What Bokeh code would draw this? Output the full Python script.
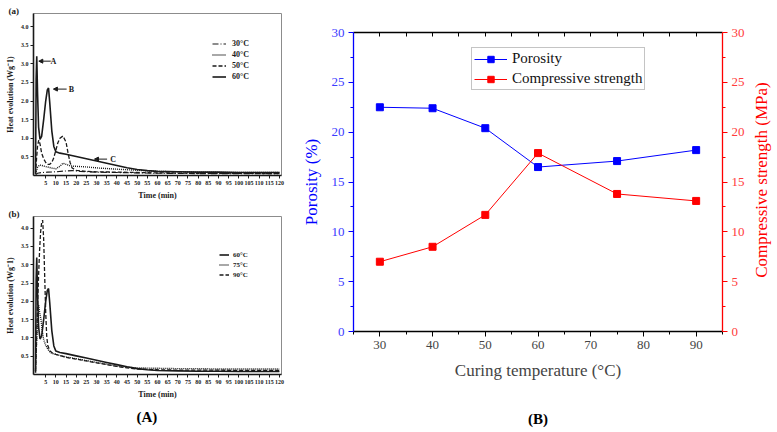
import math
from bokeh.plotting import figure
from bokeh.models import (LinearAxis, Range1d, FixedTicker, Legend, LegendItem,
                          Label, Arrow, NormalHead, PrintfTickFormatter, Title)
from bokeh.core.properties import value
from bokeh.layouts import row, column
from bokeh.embed import file_html
from bokeh.resources import INLINE

# ---------------- Panel (B) data ----------------
curing_temp = [30, 40, 50, 60, 75, 90]
porosity = [22.5, 22.4, 20.4, 16.5, 17.1, 18.2]
strength = [7.0, 8.5, 11.7, 17.9, 13.8, 13.1]

# ---------------- Panel (A) data (heat evolution, W/g vs time, min) ----------------
t60 = [0, 0.3, 0.6, 1.0, 1.5, 2.2, 3.0, 4.0, 5.0, 5.8, 6.4, 7.0, 8.0, 9.0, 10, 12, 15, 20, 25,
       30, 35, 40, 45, 50, 55, 60, 70, 80, 90, 100, 110, 120]
h60 = [0.05, 2.6, 3.2, 2.2, 1.3, 0.97, 1.05, 1.5, 2.0, 2.3, 2.35, 1.95, 1.2, 0.78, 0.64, 0.6, 0.57,
       0.51, 0.45, 0.39, 0.33, 0.27, 0.21, 0.16, 0.13, 0.11, 0.10, 0.09, 0.09, 0.08, 0.08, 0.08]

t50 = [0, 0.5, 1.0, 1.6, 2.2, 3.0, 4.0, 5.0, 6.0, 7.0, 8.0, 9.0, 10, 11, 12, 13.5, 15, 16, 17, 18,
       20, 25, 30, 40, 50, 60, 80, 100, 120]
h50 = [0.05, 0.45, 0.8, 0.95, 0.85, 0.6, 0.45, 0.35, 0.3, 0.3, 0.35, 0.48, 0.68, 0.88, 1.0, 1.06,
       0.9, 0.6, 0.35, 0.2, 0.14, 0.11, 0.1, 0.09, 0.08, 0.07, 0.06, 0.06, 0.05]

t40 = [0, 1, 2, 3, 5, 8, 10, 12, 13.5, 15, 17, 19, 25, 31, 40, 50, 60, 80, 100, 120]
h40 = [0.05, 0.22, 0.28, 0.27, 0.24, 0.2, 0.18, 0.25, 0.33, 0.3, 0.26, 0.25, 0.23, 0.2, 0.17,
       0.14, 0.11, 0.09, 0.08, 0.08]

t30 = [0, 1, 3, 6, 10, 14, 18, 20, 22, 26, 30, 40, 50, 60, 80, 100, 120]
h30 = [0.02, 0.06, 0.08, 0.09, 0.1, 0.12, 0.13, 0.12, 0.11, 0.1, 0.09, 0.08, 0.07, 0.06, 0.05,
       0.05, 0.05]

t75 = [0, 0.5, 1.0, 1.5, 2.0, 2.7, 3.3, 4.0, 5.0, 6.0, 7.0, 8.0, 10, 12, 15, 20, 25, 30, 35, 40,
       45, 50, 60, 70, 80, 90, 100, 110, 120]
h75 = [0.1, 0.9, 1.5, 1.9, 1.7, 1.5, 1.2, 0.95, 0.8, 0.7, 0.62, 0.58, 0.55, 0.52, 0.48, 0.43,
       0.38, 0.33, 0.28, 0.23, 0.2, 0.18, 0.17, 0.16, 0.16, 0.15, 0.15, 0.15, 0.15]

t90 = [0, 0.5, 1.0, 1.5, 2.0, 2.5, 3.0, 3.5, 4.0, 4.5, 5.0, 5.5, 6.0, 7.0, 8.0, 10, 12, 15, 20,
       25, 30, 35, 40, 45, 50, 60, 70, 80, 90, 100, 110, 120]
h90 = [0.1, 0.9, 1.9, 2.7, 3.4, 3.9, 4.15, 4.22, 3.7, 2.7, 1.7, 1.05, 0.8, 0.65, 0.6, 0.55, 0.52,
       0.47, 0.42, 0.37, 0.32, 0.27, 0.22, 0.18, 0.15, 0.13, 0.12, 0.12, 0.12, 0.11, 0.11, 0.11]

time_ticks = list(range(5, 121, 5))
heat_ticks = [0.5, 1.0, 1.5, 2.0, 2.5, 3.0, 3.5, 4.0]
temp_ticks = [30, 40, 50, 60, 70, 80, 90]
pct_ticks = [0, 5, 10, 15, 20, 25, 30]
strength_label = "Compressive strength (MPa)"

SERIF = "Liberation Serif"
INK = "#1a1a1a"


def set_standoff(title, v):
    try:
        title.standoff = v
    except Exception:
        pass


def heat_fig(height, b_top, b_bottom, ymax):
    f = figure(width=298, height=height, x_range=Range1d(-1, 121), y_range=Range1d(0, ymax),
               output_backend="svg", toolbar_location=None,
               min_border_left=33, min_border_right=17, min_border_top=b_top,
               min_border_bottom=b_bottom)
    f.grid.visible = False
    f.outline_line_color = "#8c8c8c"
    f.outline_line_width = 1
    for ax in (f.xaxis[0], f.yaxis[0]):
        ax.axis_line_color = INK
        ax.axis_line_width = 1.6
        ax.major_tick_line_color = INK
        ax.major_tick_out = 3
        ax.major_tick_in = 0
        ax.minor_tick_line_color = None
        ax.major_label_text_font = SERIF
        ax.major_label_text_font_style = "bold"
        ax.major_label_text_font_size = "6px"
        ax.major_label_text_color = INK
        ax.axis_label_text_font = SERIF
        ax.axis_label_text_font_style = "bold"
        ax.axis_label_text_font_size = "8px"
        ax.axis_label_text_color = INK
        ax.major_label_standoff = 2
        ax.axis_label_standoff = 3
    f.xaxis.ticker = FixedTicker(ticks=time_ticks)
    f.yaxis.ticker = FixedTicker(ticks=heat_ticks)
    f.yaxis.formatter = PrintfTickFormatter(format="%.1f")
    f.xaxis.axis_label = "Time (min)"
    f.yaxis.axis_label = "Heat evolution (Wg\u207b1)"
    return f


def corner_title(f, txt):
    t = Title(text=txt, align="left", offset=-25, text_font=SERIF, text_font_style="bold",
              text_font_size="9px", text_color=INK)
    set_standoff(t, -5)
    f.add_layout(t, "above")


# ---------------- (a) ----------------
fa = heat_fig(208, 13, 33, 4.35)
ra30 = fa.line(t30, h30, line_color=INK, line_width=1.1, line_dash="6 2 1 2")
ra40 = fa.line(t40, h40, line_color=INK, line_width=1.4, line_dash="1 1")
ra50 = fa.line(t50, h50, line_color=INK, line_width=1.3, line_dash="4 2")
ra60 = fa.line(t60, h60, line_color=INK, line_width=1.6)
leg_a = Legend(items=[LegendItem(label="30\u00b0C", renderers=[ra30]),
                      LegendItem(label="40\u00b0C", renderers=[ra40]),
                      LegendItem(label="50\u00b0C", renderers=[ra50]),
                      LegendItem(label="60\u00b0C", renderers=[ra60])],
               location=(179, 94), glyph_width=14, glyph_height=9, label_height=9,
               label_standoff=6, spacing=2, padding=0, margin=0,
               border_line_color=None, background_fill_alpha=0,
               label_text_font=SERIF, label_text_font_style="bold",
               label_text_font_size="8px", label_text_color=INK)
fa.add_layout(leg_a)
for (xs, xe, yv, lx, txt) in [(7.5, 1.6, 3.07, 8.8, "A"), (15.3, 8.8, 2.32, 17.7, "B"),
                              (35.2, 29.0, 0.44, 38.2, "C")]:
    fa.add_layout(Arrow(end=NormalHead(size=4, fill_color=INK, line_color=INK),
                        x_start=xs, y_start=yv, x_end=xe, y_end=yv,
                        line_color=INK, line_width=1))
    fa.add_layout(Label(x=lx, y=yv, text=txt, text_font=SERIF, text_font_style="bold",
                        text_font_size="8px", text_color=INK, text_baseline="middle",
                        text_align="center"))
corner_title(fa, "(a)")

# ---------------- (b) ----------------
fb = heat_fig(223, 8, 57, 4.32)
rb60 = fb.line(t60, h60, line_color=INK, line_width=1.6)
rb75 = fb.line(t75, h75, line_color=INK, line_width=1.4, line_dash="1 1")
rb90 = fb.line(t90, h90, line_color=INK, line_width=1.3, line_dash="4 2")
leg_b = Legend(items=[LegendItem(label="60\u00b0C", renderers=[rb60]),
                      LegendItem(label="75\u00b0C", renderers=[rb75]),
                      LegendItem(label="90\u00b0C", renderers=[rb90])],
               location=(186, 95), glyph_width=10, glyph_height=9, label_height=9,
               label_standoff=4, spacing=1, padding=0, margin=0,
               border_line_color=None, background_fill_alpha=0,
               label_text_font=SERIF, label_text_font_style="bold",
               label_text_font_size="7px", label_text_color=INK)
fb.add_layout(leg_b)
corner_title(fb, "(b)")
tA = Title(text="(A)", align="left", offset=103, text_font=SERIF, text_font_style="bold",
           text_font_size="15px", text_color="black")
set_standoff(tA, 10)
fb.add_layout(tA, "below")

# ---------------- (B) ----------------
BLUE = "#0000ff"
BLUE_T = "#3b3bff"
RED = "#ff0000"
RED_T = "#ff3b3b"

fB = figure(width=451, height=405, x_range=Range1d(25, 95), y_range=Range1d(0, 30),
            output_backend="svg", toolbar_location=None,
            min_border_left=52, min_border_right=27, min_border_top=32, min_border_bottom=74)
fB.grid.visible = False
fB.outline_line_color = None
fB.extra_y_ranges = {"right": Range1d(0, 30)}

xa = fB.xaxis[0]
xa.ticker = FixedTicker(ticks=temp_ticks, minor_ticks=[25, 35, 45, 55, 65, 75, 85, 95])
xa.axis_line_color = "black"
xa.axis_line_width = 1.3
xa.major_tick_out = 5
xa.major_tick_in = 0
xa.minor_tick_out = 3
xa.minor_tick_in = 0
xa.major_label_text_font = SERIF
xa.major_label_text_font_size = "13px"
xa.major_label_standoff = 4
xa.axis_label = "Curing temperature (\u00b0C)"
xa.axis_label_text_font = SERIF
xa.axis_label_text_font_size = "17px"
xa.axis_label_text_font_style = "normal"
xa.axis_label_standoff = 9

ya = fB.yaxis[0]
ya.ticker = FixedTicker(ticks=pct_ticks, minor_ticks=[2.5, 7.5, 12.5, 17.5, 22.5, 27.5])
ya.axis_line_color = BLUE
ya.axis_line_width = 1.3
ya.major_tick_line_color = BLUE
ya.minor_tick_line_color = BLUE
ya.major_tick_out = 5
ya.major_tick_in = 0
ya.minor_tick_out = 3
ya.minor_tick_in = 0
ya.major_label_text_color = BLUE_T
ya.major_label_text_font = SERIF
ya.major_label_text_font_size = "13px"
ya.major_label_standoff = 4
ya.axis_label = "Porosity (%)"
ya.axis_label_text_color = BLUE
ya.axis_label_text_font = SERIF
ya.axis_label_text_font_size = "17px"
ya.axis_label_text_font_style = "normal"
ya.axis_label_standoff = 8

yr = LinearAxis(y_range_name="right",
                ticker=FixedTicker(ticks=pct_ticks,
                                   minor_ticks=[2.5, 7.5, 12.5, 17.5, 22.5, 27.5]))
yr.axis_line_color = RED
yr.axis_line_width = 1.3
yr.major_tick_line_color = RED
yr.minor_tick_line_color = RED
yr.major_tick_out = 5
yr.major_tick_in = 0
yr.minor_tick_out = 3
yr.minor_tick_in = 0
yr.major_label_text_color = RED_T
yr.major_label_text_font = SERIF
yr.major_label_text_font_size = "13px"
yr.major_label_standoff = 4
fB.add_layout(yr, "right")

top_ticks = [30, 35, 40, 45, 50, 55, 60, 65, 70, 75, 80, 85, 90]
top = LinearAxis(ticker=FixedTicker(ticks=top_ticks),
                 major_label_overrides={v: "" for v in top_ticks})
top.axis_line_color = "black"
top.axis_line_width = 1.3
top.major_tick_in = 4
top.major_tick_out = 0
top.minor_tick_line_color = None
top.major_label_standoff = 0
fB.add_layout(top, "above")

lp = fB.line(curing_temp, porosity, line_color=BLUE, line_width=1)
sp = fB.scatter(curing_temp, porosity, marker="square", size=7, fill_color=BLUE, line_color=BLUE)
ls = fB.line(curing_temp, strength, line_color=RED, line_width=1, y_range_name="right")
ss = fB.scatter(curing_temp, strength, marker="square", size=7, fill_color=RED, line_color=RED,
                y_range_name="right")

leg_B = Legend(items=[LegendItem(label="Porosity", renderers=[lp, sp]),
                      LegendItem(label="Compressive strength", renderers=[ls, ss])],
               location=(118, 241), glyph_width=33, glyph_height=16, label_height=16,
               label_standoff=5, spacing=3, padding=2, margin=0,
               border_line_color="#8a8a8a", border_line_width=1,
               label_text_font=SERIF, label_text_font_size="15px", label_text_color="#111111")
fB.add_layout(leg_B)

# caption strip "(B)" under panel (B)
fBcap = figure(width=451, height=26, x_range=Range1d(25, 95), y_range=Range1d(0, 1),
               output_backend="svg", toolbar_location=None, x_axis_type=None,
               y_axis_type=None, min_border_left=52, min_border_right=27,
               min_border_top=0, min_border_bottom=0)
fBcap.grid.visible = False
fBcap.outline_line_color = None
fBcap.text(x=[(25 + 95) / 2], y=[0.5], text=["(B)"], text_font=value(SERIF),
           text_font_style="bold", text_font_size="15px", text_color="black",
           text_align="center", text_baseline="middle")

# right-hand axis title strip (reads bottom-to-top, like the reference)
fR = figure(width=24, height=431, x_range=Range1d(0, 1), y_range=Range1d(0, 30),
            output_backend="svg", toolbar_location=None, x_axis_type=None, y_axis_type=None,
            min_border_left=0, min_border_right=0, min_border_top=32, min_border_bottom=100)
fR.grid.visible = False
fR.outline_line_color = None
fR.text(x=[0.5], y=[15.2], text=[strength_label], angle=math.pi / 2,
        text_font=value(SERIF), text_font_size="17px", text_color=RED,
        text_align="center", text_baseline="middle")

layout = row(column(fa, fb), column(fB, fBcap), fR)
open("out.html", "w").write(file_html(layout, INLINE))
